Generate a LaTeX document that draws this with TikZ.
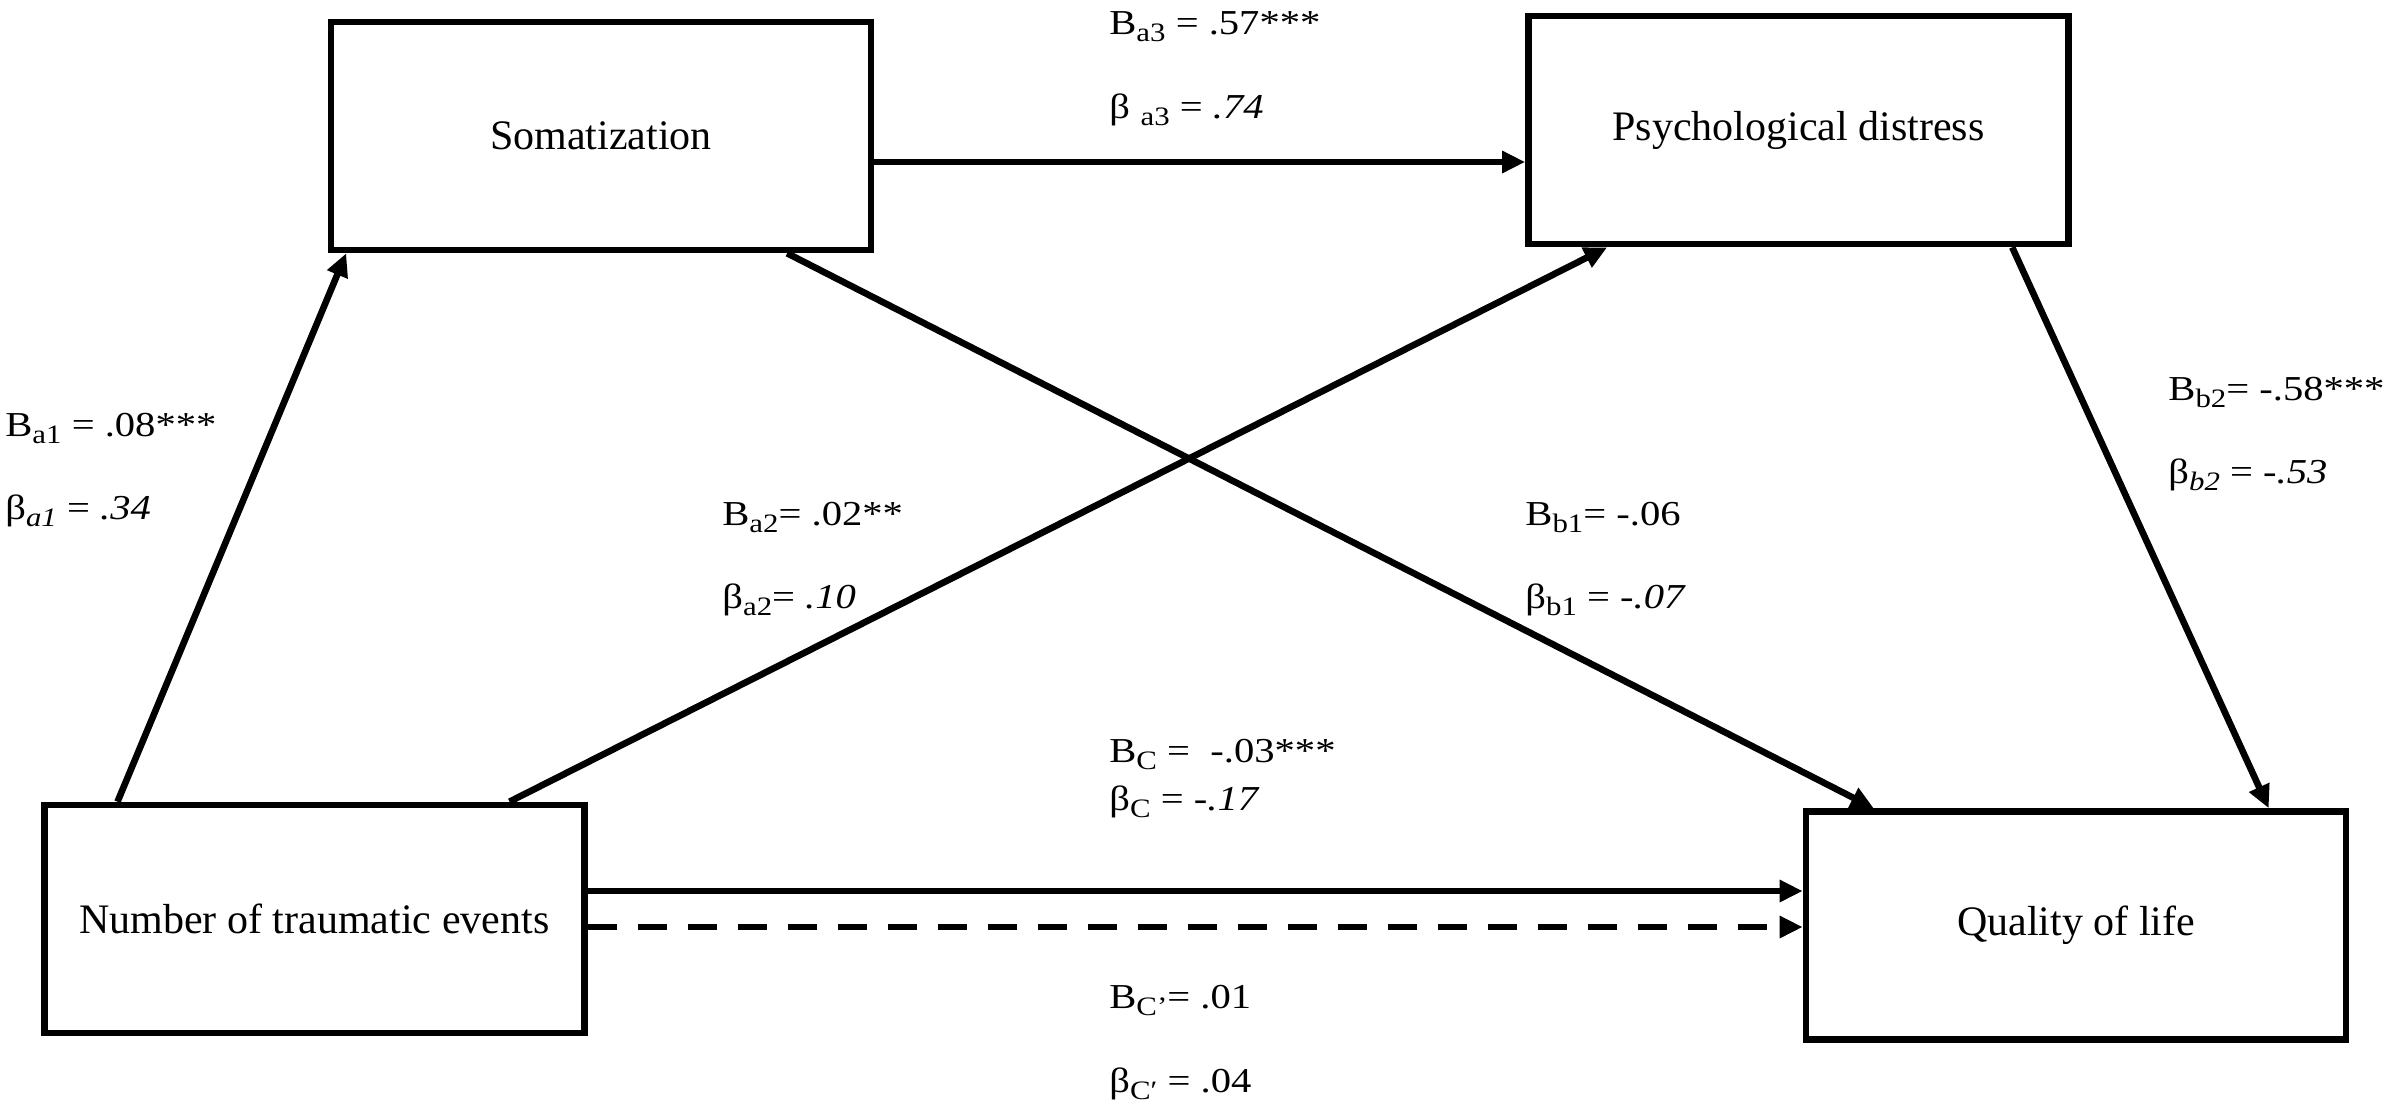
\documentclass[tikz,border=0pt]{standalone}
\usepackage{fontspec}
\setmainfont{Liberation Serif}
\newfontfamily\lblfont[FakeStretch=1.16]{Liberation Serif}
\usetikzlibrary{arrows.meta,calc}
\newcommand{\sbx}[1]{\raisebox{-0.22em}{\fontsize{13.3}{13.3}\selectfont #1}}
\begin{document}
\begin{tikzpicture}[x=0.5pt,y=-0.5pt,
  box/.style={draw, line width=3.3pt, rectangle, minimum width=270pt, minimum height=114pt, inner sep=0pt, font=\fontsize{21}{24}\selectfont},
  lbl/.style={anchor=base west, inner sep=0pt, font=\lblfont\fontsize{17.5}{20}\selectfont},
  arr/.style={line width=3.3pt, -{Triangle[length=11.5pt,width=10.5pt]}},
  dasharr/.style={arr, dash pattern=on 14.5pt off 10.5pt}]
\useasboundingbox[fill=white] (0,0) rectangle (2392,1104);

\node[box] (soma) at (601,136) {Somatization};
\node[box] (psych) at (1798.5,130) {Psychological distress};
\node[box] (num) at (314.3,919) {Number of traumatic events};
\node[box] (qol) at (2076,925.5) {Quality of life};

\coordinate (s1) at ([yshift=-13pt]soma.east);
\coordinate (n1) at ([yshift=14pt]num.east);
\coordinate (n2) at ([yshift=-4pt]num.east);

\draw[arr] ([xshift=38.25pt]num.north west) -- ([xshift=9.25pt]soma.south west);
\draw[arr] ([xshift=234.25pt]num.north west) -- ([xshift=41pt]psych.south west);
\draw[arr] ([xshift=229.75pt]soma.south west) -- ([xshift=35.5pt]qol.north west);
\draw[arr] ([xshift=243.5pt]psych.south west) -- ([xshift=233pt]qol.north west);
\draw[arr] (s1) -- (s1 -| psych.west);
\draw[arr] (n1) -- (n1 -| qol.west);
\draw[dasharr] (n2) -- (n2 -| qol.west);

\node[lbl] (la3B) at (1109,34) {B\sbx{a3} = .57***};
\node[lbl] (la3b) at (1109,118) {β\hspace{0.3em}\sbx{a3} = \textit{.74}};
\node[lbl] (la1B) at (5,436) {B\sbx{a1} = .08***};
\node[lbl] (la1b) at (5,519) {β\sbx{\textit{a1}} = \textit{.34}};
\node[lbl] (la2B) at (722,525) {B\sbx{a2}= .02**};
\node[lbl] (la2b) at (722,608) {β\sbx{a2}= \textit{.10}};
\node[lbl] (lb1B) at (1525,525) {B\sbx{b1}= -.06};
\node[lbl] (lb1b) at (1525,608) {β\sbx{b1} = -\textit{.07}};
\node[lbl] (lb2B) at (2168,400) {B\sbx{b2}= -.58***};
\node[lbl] (lb2b) at (2168,483) {β\sbx{\textit{b2}} = \textit{-.53}};
\node[lbl] (lcB) at (1109,762) {B\sbx{C} =~~-.03***};
\node[lbl] (lcb) at (1109,810) {β\sbx{C} = \textit{-.17}};
\node[lbl] (lcpB) at (1109,1008) {B\sbx{C’}= .01};
\node[lbl] (lcpb) at (1109,1092) {β\sbx{C′} = .04};
\end{tikzpicture}
\end{document}
